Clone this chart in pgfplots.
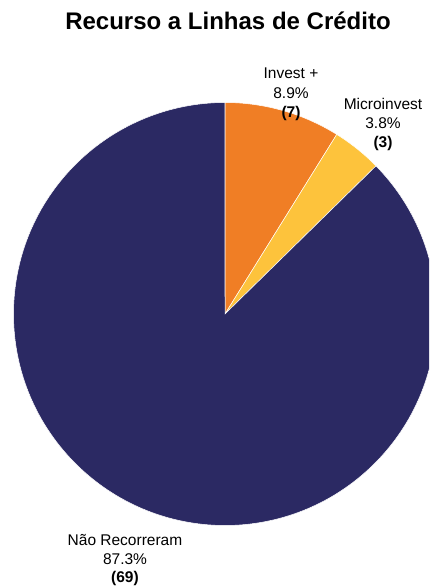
\documentclass[border=0pt]{standalone}
\usepackage{pgfplots}
\pgfplotsset{compat=1.18}
\usepackage{pgfplotstable}
\usepackage{fontspec}
\setmainfont{Liberation Sans}
\definecolor{cnavy}{HTML}{2B2963}
\definecolor{corange}{HTML}{F07E25}
\definecolor{cyellow}{HTML}{FDC33C}

\pgfplotstableread{
name count
Invest 7
Micro 3
Nao 69
}\datatable
\pgfplotstablegetelem{0}{count}\of\datatable \let\cA\pgfplotsretval
\pgfplotstablegetelem{1}{count}\of\datatable \let\cB\pgfplotsretval
\pgfplotstablegetelem{2}{count}\of\datatable \let\cC\pgfplotsretval
\pgfmathsetmacro\total{\cA+\cB+\cC}
\pgfmathsetmacro\aA{90-\cA/\total*360}
\pgfmathsetmacro\aB{\aA-\cB/\total*360}
\pgfmathsetmacro\aC{\aB-\cC/\total*360}

\begin{document}
\begin{tikzpicture}
\begin{axis}[
  hide axis, x=1pt, y=1pt,
  xmin=0, xmax=429, ymin=0, ymax=586,
  clip=false,
]
\path (axis cs:0,0) rectangle (axis cs:429,586);
\begin{scope}
\clip (axis cs:0,0) rectangle (axis cs:429,586);
\filldraw[fill=corange, draw=white, line width=0.5pt] (axis cs:225,272) -- ++(90:211.5pt) arc[start angle=90, end angle=\aA, radius=211.5pt] -- cycle;
\filldraw[fill=cyellow, draw=white, line width=0.5pt] (axis cs:225,272) -- ++(\aA:211.5pt) arc[start angle=\aA, end angle=\aB, radius=211.5pt] -- cycle;
\filldraw[fill=cnavy, draw=white, line width=0.5pt] (axis cs:225,272) -- ++(\aB:211.5pt) arc[start angle=\aB, end angle=\aC, radius=211.5pt] -- cycle;
\end{scope}
\node[anchor=base, font=\fontsize{24}{28}\selectfont\bfseries] at (axis cs:228,556.5) {Recurso a Linhas de Crédito};
\tikzset{lbl/.style={anchor=base, inner sep=0pt, font=\fontsize{15.5}{18}\selectfont}}
\node[lbl] at (axis cs:291,507) {Invest +};
\node[lbl] at (axis cs:291,487.5) {8.9\%};
\node[lbl, font=\fontsize{15.5}{18}\selectfont\bfseries] at (axis cs:291,468.5) {(7)};
\node[lbl] at (axis cs:383,476) {Microinvest};
\node[lbl] at (axis cs:383,457) {3.8\%};
\node[lbl, font=\fontsize{15.5}{18}\selectfont\bfseries] at (axis cs:383,438) {(3)};
\node[lbl] at (axis cs:125,40) {Não Recorreram};
\node[lbl] at (axis cs:125,21.5) {87.3\%};
\node[lbl, font=\fontsize{15.5}{18}\selectfont\bfseries] at (axis cs:125,3.5) {(69)};
\end{axis}
\end{tikzpicture}
\end{document}
